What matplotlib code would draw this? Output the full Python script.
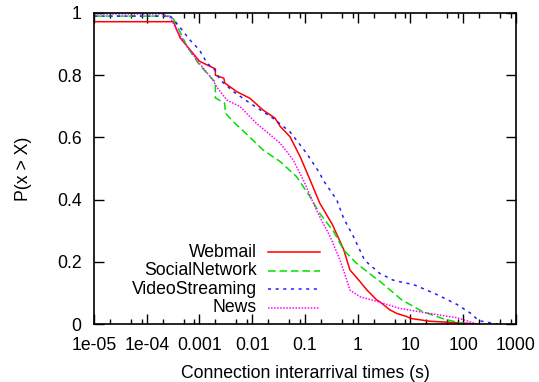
import numpy as np
import matplotlib
matplotlib.use("Agg")
import matplotlib.pyplot as plt
from matplotlib.ticker import LogLocator, NullFormatter, FixedLocator

plt.rcParams["font.family"] = ["Liberation Sans", "DejaVu Sans"]

# Complementary CDFs of connection interarrival times, per service
webmail_x = [1e-5, 3.2e-4, 4.3e-4, 1.0e-3, 2.0e-3, 2.0e-3, 2.9e-3, 3.0e-3, 5.1e-3, 9e-3,
             1.6e-2, 2.7e-2, 3.4e-2, 5.2e-2, 8.1e-2, 0.125, 0.19, 0.33, 0.54, 0.71,
             1.0, 1.5, 2.3, 2.6, 4.1, 5.5, 8.5, 10, 23, 76, 200]
webmail_p = [0.972, 0.972, 0.92, 0.845, 0.82, 0.80, 0.79, 0.775, 0.747, 0.726,
             0.688, 0.662, 0.635, 0.602, 0.538, 0.463, 0.389, 0.32, 0.24, 0.174,
             0.145, 0.109, 0.077, 0.072, 0.045, 0.034, 0.024, 0.018, 0.009, 0.004, 0.0]

social_x = [1e-5, 3.0e-4, 3.7e-4, 5.8e-4, 1.0e-3, 1.8e-3, 2.0e-3, 2.0e-3, 3.0e-3, 3.1e-3,
            4.4e-3, 9.1e-3, 1.62e-2, 3.4e-2, 6.9e-2, 0.125, 0.16, 0.19, 0.35, 0.54,
            0.95, 2.0, 2.6, 6.9, 15, 17, 45, 87, 115]
social_p = [0.99, 0.99, 0.961, 0.892, 0.833, 0.785, 0.78, 0.727, 0.71, 0.678,
            0.65, 0.60, 0.559, 0.522, 0.474, 0.409, 0.377, 0.356, 0.297, 0.238,
            0.195, 0.152, 0.138, 0.077, 0.045, 0.040, 0.015, 0.004, 0.0]

video_x = [1e-5, 2.8e-4, 3.7e-4, 6.6e-4, 1.0e-3, 1.4e-3, 1.95e-3, 2.45e-3, 4.4e-3, 9.1e-3,
           0.025, 0.052, 0.107, 0.19, 0.22, 0.40, 0.54, 0.83, 1.35, 2.6,
           3.5, 4.7, 8.5, 11, 28, 76, 155, 170, 210, 320, 450]
video_p = [0.99, 0.99, 0.967, 0.913, 0.881, 0.838, 0.817, 0.785, 0.747, 0.71,
           0.661, 0.618, 0.549, 0.485, 0.463, 0.399, 0.34, 0.281, 0.205, 0.163,
           0.152, 0.141, 0.131, 0.128, 0.099, 0.063, 0.029, 0.02, 0.01, 0.004, 0.0]

news_x = [1e-5, 2.0e-4, 2.4e-4, 2.8e-4, 3.7e-4, 5.8e-4, 1.0e-3, 1.8e-3, 2.1e-3, 3.3e-3,
          5.9e-3, 0.012, 0.022, 0.034, 0.060, 0.093, 0.155, 0.19, 0.30, 0.46,
          0.62, 0.71, 1.1, 2.6, 6.3, 23, 76, 135, 180]
news_p = [0.997, 0.997, 0.99, 0.985, 0.945, 0.892, 0.838, 0.785, 0.763, 0.72,
          0.699, 0.645, 0.608, 0.581, 0.527, 0.463, 0.377, 0.345, 0.281, 0.206,
          0.141, 0.109, 0.088, 0.07, 0.05, 0.034, 0.02, 0.007, 0.0]

labels = ["Webmail", "SocialNetwork", "VideoStreaming", "News"]
x_ticks = [1e-5, 1e-4, 1e-3, 1e-2, 1e-1, 1, 10, 100, 1000]
x_tick_labels = ["1e-05", "1e-04", "0.001", "0.01", "0.1", "1", "10", "100", "1000"]
y_ticks = [0, 0.2, 0.4, 0.6, 0.8, 1]
y_tick_labels = ["0", "0.2", "0.4", "0.6", "0.8", "1"]

series = [
    (webmail_x, webmail_p, "#ff0000", "-"),
    (social_x, social_p, "#00e000", (0, (5.0, 2.5))),
    (video_x, video_p, "#2020ff", (0, (2.0, 3.0))),
    (news_x, news_p, "#ff00ff", (0, (1.0, 1.0))),
]

fig = plt.figure(figsize=(5.39, 3.82), dpi=100)
ax = fig.add_axes([0.1744, 0.1518, 0.7829, 0.8142])

for (xs, ps, color, ls), label in zip(series, labels):
    ax.plot(xs, ps, color=color, linestyle=ls, linewidth=1.1, label=label)

ax.set_xscale("log")
ax.set_xlim(1e-5, 1000)
ax.set_ylim(0, 1)
ax.set_xticks(x_ticks)
ax.set_xticklabels(x_tick_labels)
ax.xaxis.set_minor_locator(LogLocator(base=10, subs=(2.0, 5.0, 8.0), numticks=20))
ax.xaxis.set_minor_formatter(NullFormatter())
ax.set_yticks(y_ticks)
ax.set_yticklabels(y_tick_labels)
ax.yaxis.set_minor_locator(FixedLocator([]))

fs = 12.7
ax.tick_params(axis="both", which="major", direction="in", length=7, width=1,
               top=True, right=True, labelsize=fs, pad=9)
ax.tick_params(axis="x", which="minor", direction="in", length=3.5, width=1,
               top=True, bottom=True)
for s in ax.spines.values():
    s.set_linewidth(1.2)

ax.set_xlabel("Connection interarrival times (s)", fontsize=fs, labelpad=8)
ax.set_ylabel("P(x > X)", fontsize=fs, labelpad=18)

# gnuplot-style key: right-aligned text with the line sample after it
key_rows = [0.2305, 0.171, 0.1125, 0.052]
for (xs, ps, color, ls), label, ky in zip(series, labels, key_rows):
    ax.text(0.386, ky, label, transform=ax.transAxes, ha="right", va="center", fontsize=fs)
    ax.plot([0.412, 0.536], [ky, ky], transform=ax.transAxes, color=color,
            linestyle=ls, linewidth=1.1)

fig.savefig("out.png", dpi=100)
